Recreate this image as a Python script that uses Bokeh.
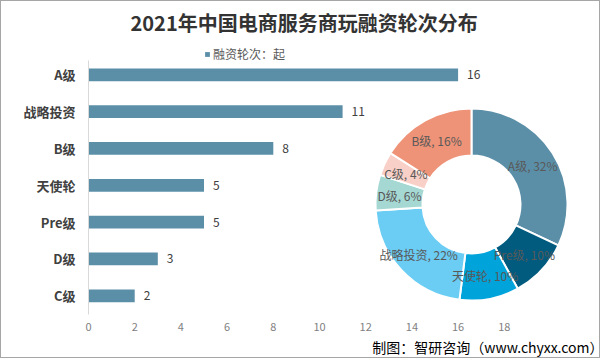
import math
from bokeh.plotting import figure
from bokeh.models import Range1d, FixedTicker, Legend, LegendItem, Title
from bokeh.embed import file_html
from bokeh.resources import INLINE
from bokeh.core.properties import value

# ---------------- data ----------------
categories = ["A级", "战略投资", "B级", "天使轮", "Pre级", "D级", "C级"]
values = [16, 11, 8, 5, 5, 3, 2]
x_ticks = [0, 2, 4, 6, 8, 10, 12, 14, 16, 18]
pie_order = ["A级", "Pre级", "天使轮", "战略投资", "D级", "C级", "B级"]
pie_colors = ["#5B8FA8", "#005B7F", "#00A3DA", "#6BCCF4", "#A5D8D3", "#F8D0C7", "#EE9377"]
title_text = "2021年中国电商服务商玩融资轮次分布"
legend_text = "融资轮次：起"
source_text = "制图：智研咨询（www.chyxx.com）"

FONT = "Noto Sans CJK SC"
BAR_COLOR = "#5B8FA8"

# ---------------- layout ----------------
W, H = 600, 358
L, R, T, B = 87, 3, 39, 45
FW, FH = W - L - R, H - T - B
PX_PER_UNIT = 23.1
PX_PER_BAND = 36.83
TOP_PAD_PX, BOTTOM_PAD_PX = 34.3, 18.7

n = len(categories)
ypos = [n - 1 - i for i in range(n)]  # first category on top

p = figure(width=W, height=H,
           x_range=Range1d(0, FW / PX_PER_UNIT),
           y_range=Range1d(-BOTTOM_PAD_PX / PX_PER_BAND, n - 1 + TOP_PAD_PX / PX_PER_BAND),
           output_backend="svg", toolbar_location=None,
           min_border_left=L, min_border_right=R,
           min_border_top=T, min_border_bottom=B,
           background_fill_color="white", border_fill_color="white",
           styles={"border": "1px solid #a6a6a6"})
p.outline_line_color = None
p.xgrid.grid_line_color = None
p.ygrid.grid_line_color = None

# pixel-like extra ranges (x from figure left, y measured up from frame bottom)
p.extra_x_ranges = {"px": Range1d(L, L + FW)}
p.extra_y_ranges = {"py": Range1d(0, FH)}


def yup(fy):
    return T + FH - fy


# title & source
p.title = Title(text=title_text, align="left", offset=42, standoff=8,
                text_font=FONT, text_font_size="20px", text_font_style="bold",
                text_color="#333333")
p.add_layout(Title(text=source_text, align="right", offset=-5, standoff=2,
                   text_font=FONT, text_font_size="14px", text_font_style="normal",
                   text_color="#000000"), "below")

# axes
p.xaxis.ticker = FixedTicker(ticks=x_ticks)
p.xaxis.axis_line_color = None
p.xaxis.major_tick_line_color = None
p.xaxis.minor_tick_line_color = None
p.xaxis.major_tick_out = 0
p.xaxis.major_label_standoff = 8
p.xaxis.major_label_text_font = FONT
p.xaxis.major_label_text_font_size = "11px"
p.xaxis.major_label_text_color = "#7f7f7f"

p.yaxis.ticker = FixedTicker(ticks=ypos)
p.yaxis.major_label_overrides = {y: c for y, c in zip(ypos, categories)}
p.yaxis.bounds = (-BOTTOM_PAD_PX / PX_PER_BAND, n - 1 + 0.4)
p.yaxis.axis_line_color = "#d9d9d9"
p.yaxis.major_tick_line_color = None
p.yaxis.minor_tick_line_color = None
p.yaxis.major_tick_out = 0
p.yaxis.major_label_standoff = 13
p.yaxis.major_label_text_font = FONT
p.yaxis.major_label_text_font_size = "13px"
p.yaxis.major_label_text_font_style = "bold"
p.yaxis.major_label_text_color = "#404040"

# bars
bars = p.hbar(y=ypos, right=values, left=0, height=0.345,
              fill_color=BAR_COLOR, line_color=None)
p.text(x=values, y=ypos, text=[str(v) for v in values],
       x_offset=9, text_baseline="middle", text_align="left",
       text_font=value(FONT), text_font_size="12px", text_color="#404040")

# legend
legend = Legend(items=[LegendItem(label=legend_text, renderers=[bars])],
                location=(116, 252), orientation="horizontal",
                glyph_width=6, glyph_height=6, label_height=12,
                label_standoff=3, padding=0, margin=0, spacing=0,
                border_line_color=None, background_fill_alpha=0,
                label_text_font=FONT, label_text_font_size="12px",
                label_text_color="#595959")
p.add_layout(legend, "center")

# donut
val_map = dict(zip(categories, values))
pie_vals = [val_map[c] for c in pie_order]
total = sum(pie_vals)
cx, cy = 470, yup(203)
r_in, r_out = 49, 96
starts, ends, lx, ly, ltxt = [], [], [], [], []
cum = 0
for c, v in zip(pie_order, pie_vals):
    a0 = math.pi / 2 - 2 * math.pi * cum / total
    cum += v
    a1 = math.pi / 2 - 2 * math.pi * cum / total
    starts.append(a1)
    ends.append(a0)
    mid = (a0 + a1) / 2
    rm = (r_in + r_out) / 2
    lx.append(cx + rm * math.cos(mid))
    ly.append(cy + rm * math.sin(mid))
    ltxt.append(f"{c}, {round(v / total * 100)}%")

p.annular_wedge(x=cx, y=cy, inner_radius=r_in, outer_radius=r_out,
                inner_radius_units="screen", outer_radius_units="screen",
                start_angle=starts, end_angle=ends,
                fill_color=pie_colors, line_color="white", line_width=2,
                x_range_name="px", y_range_name="py")
p.text(x=lx, y=ly, text=ltxt, text_align="center", text_baseline="middle",
       text_font=value(FONT), text_font_size="12px", text_color="#595959",
       x_range_name="px", y_range_name="py")

open("out.html", "w").write(file_html(p, INLINE))
